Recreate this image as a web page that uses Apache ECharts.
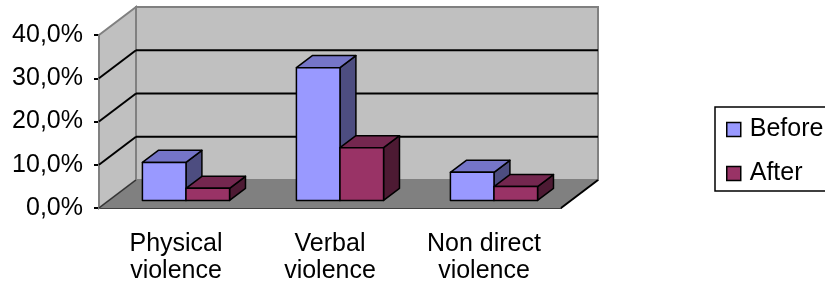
<!DOCTYPE html>
<html>
<head>
<meta charset="utf-8">
<script src="https://cdn.jsdelivr.net/npm/echarts@6/dist/echarts.min.js"></script>
<style>
html, body { margin: 0; padding: 0; background: #fff; }
#chart { width: 825px; height: 285px; }
</style>
</head>
<body>
<div id="chart"></div>
<script>
// data
const categories = ['Physical\nviolence', 'Verbal\nviolence', 'Non direct\nviolence'];
const beforeValues = [0.088, 0.307, 0.065];
const afterValues = [0.028, 0.122, 0.032];
const yTicks = [0, 0.1, 0.2, 0.3, 0.4];

// fake 3d look
const DEPTH_X = 37, DEPTH_Y = -28;
const BAR_FRONT = 0.27, BAR_BACK = 0.70;
const BAR_W = 0.283;
const FONT = 'Liberation Sans, Arial, sans-serif';

const beforeColors = { front: '#9999ff', top: '#7575c8', side: '#4d4d80' };
const afterColors = { front: '#993366', top: '#74274f', side: '#4d1a33' };

function wallRender(params, api) {
    const cs = params.coordSys;
    const xl = cs.x, xr = cs.x + cs.width;
    const y = t => api.coord([0, t])[1];
    const y0 = y(0), yTop = y(yTicks[yTicks.length - 1]);
    const border = { stroke: '#808080', lineWidth: 2 };
    const kids = [
        // left wall
        { type: 'polygon', shape: { points: [[xl, yTop], [xl + DEPTH_X, yTop + DEPTH_Y], [xl + DEPTH_X, y0 + DEPTH_Y], [xl, y0]] },
          style: { fill: '#c0c0c0', ...border } },
        // back wall
        { type: 'rect', shape: { x: xl + DEPTH_X, y: yTop + DEPTH_Y, width: xr - xl, height: y0 - yTop } ,
          style: { fill: '#c0c0c0', ...border } },
        // floor
        { type: 'polygon', shape: { points: [[xl, y0], [xr, y0], [xr + DEPTH_X, y0 + DEPTH_Y], [xl + DEPTH_X, y0 + DEPTH_Y]] },
          style: { fill: '#808080', stroke: '#808080', lineWidth: 1 } },
        { type: 'line', shape: { x1: xr, y1: y0, x2: xr + DEPTH_X, y2: y0 + DEPTH_Y }, style: { stroke: '#000', lineWidth: 2 } },
        { type: 'line', shape: { x1: xl, y1: y0, x2: xl + DEPTH_X, y2: y0 + DEPTH_Y }, style: { stroke: '#333', lineWidth: 1.5 } }
    ];
    yTicks.slice(1, -1).forEach(t => {
        const yy = y(t);
        kids.push({ type: 'line', shape: { x1: xl, y1: yy, x2: xl + DEPTH_X, y2: yy + DEPTH_Y }, style: { stroke: '#000', lineWidth: 2 } });
        kids.push({ type: 'line', shape: { x1: xl + DEPTH_X, y1: yy + DEPTH_Y, x2: xr + DEPTH_X, y2: yy + DEPTH_Y }, style: { stroke: '#000', lineWidth: 2 } });
    });
    return { type: 'group', children: kids };
}

function barRender(side, colors) {
    return function (params, api) {
        const i = api.value(0), v = api.value(1);
        const band = api.size([1, 0])[0];
        const w = band * BAR_W;
        const base = api.coord([i, 0]);
        const top = api.coord([i, v]);
        const fx = base[0] + BAR_FRONT * DEPTH_X;
        const fy0 = base[1] + BAR_FRONT * DEPTH_Y;
        const fy1 = top[1] + BAR_FRONT * DEPTH_Y;
        const x0 = side === 0 ? fx - w : fx;
        const x1 = x0 + w;
        const ddx = (BAR_BACK - BAR_FRONT) * DEPTH_X, ddy = (BAR_BACK - BAR_FRONT) * DEPTH_Y;
        const line = { stroke: '#000', lineWidth: 1.5, lineJoin: 'round' };
        return {
            type: 'group',
            children: [
                { type: 'polygon', shape: { points: [[x1, fy0], [x1 + ddx, fy0 + ddy], [x1 + ddx, fy1 + ddy], [x1, fy1]] },
                  style: { fill: colors.side, ...line } },
                { type: 'polygon', shape: { points: [[x0, fy1], [x1, fy1], [x1 + ddx, fy1 + ddy], [x0 + ddx, fy1 + ddy]] },
                  style: { fill: colors.top, ...line } },
                { type: 'rect', shape: { x: x0, y: fy1, width: w, height: fy0 - fy1 },
                  style: { fill: colors.front, ...line } }
            ]
        };
    };
}

const chart = echarts.init(document.getElementById('chart'), null, { renderer: 'canvas' });
chart.setOption({
    animation: false,
    textStyle: { fontFamily: FONT },
    grid: { left: 99, right: 264, top: 35, bottom: 77, containLabel: false },
    xAxis: {
        type: 'category',
        data: categories,
        axisLine: { lineStyle: { color: '#000', width: 2 } },
        axisTick: { length: 6, lineStyle: { color: '#000', width: 2 } },
        axisLabel: { color: '#000', fontSize: 25, fontFamily: FONT, lineHeight: 27, margin: 23, interval: 0 },
        splitLine: { show: false }
    },
    yAxis: {
        type: 'value',
        min: 0,
        max: 0.4,
        interval: 0.1,
        axisLine: { show: true, lineStyle: { color: '#000', width: 2 } },
        axisTick: { show: true, length: 5, lineStyle: { color: '#000', width: 2 } },
        axisLabel: { color: '#000', fontSize: 25, fontFamily: FONT, margin: 16,
                     formatter: v => (v * 100).toFixed(1).replace('.', ',') + '%' },
        splitLine: { show: false }
    },
    legend: {
        orient: 'vertical',
        left: 715,
        top: 107,
        padding: [10, 6, 5, 11],
        itemGap: 19,
        itemWidth: 14,
        itemHeight: 14,
        icon: 'rect',
        borderColor: '#000',
        borderWidth: 1.5,
        textStyle: { color: '#000', fontSize: 25, fontFamily: FONT, padding: [0, 0, 0, 4] },
        data: [
            { name: 'Before', itemStyle: { color: beforeColors.front, borderColor: '#000', borderWidth: 1.5 } },
            { name: 'After', itemStyle: { color: afterColors.front, borderColor: '#000', borderWidth: 1.5 } }
        ]
    },
    series: [
        { type: 'custom', name: 'walls', renderItem: wallRender, data: [[0, 0]], clip: false, silent: true, z: 1 },
        { type: 'custom', name: 'Before', renderItem: barRender(0, beforeColors), clip: false, z: 2,
          itemStyle: { color: beforeColors.front }, encode: { x: 0, y: 1 },
          data: beforeValues.map((v, i) => [i, v]) },
        { type: 'custom', name: 'After', renderItem: barRender(1, afterColors), clip: false, z: 3,
          itemStyle: { color: afterColors.front }, encode: { x: 0, y: 1 },
          data: afterValues.map((v, i) => [i, v]) }
    ]
});
</script>
</body>
</html>
